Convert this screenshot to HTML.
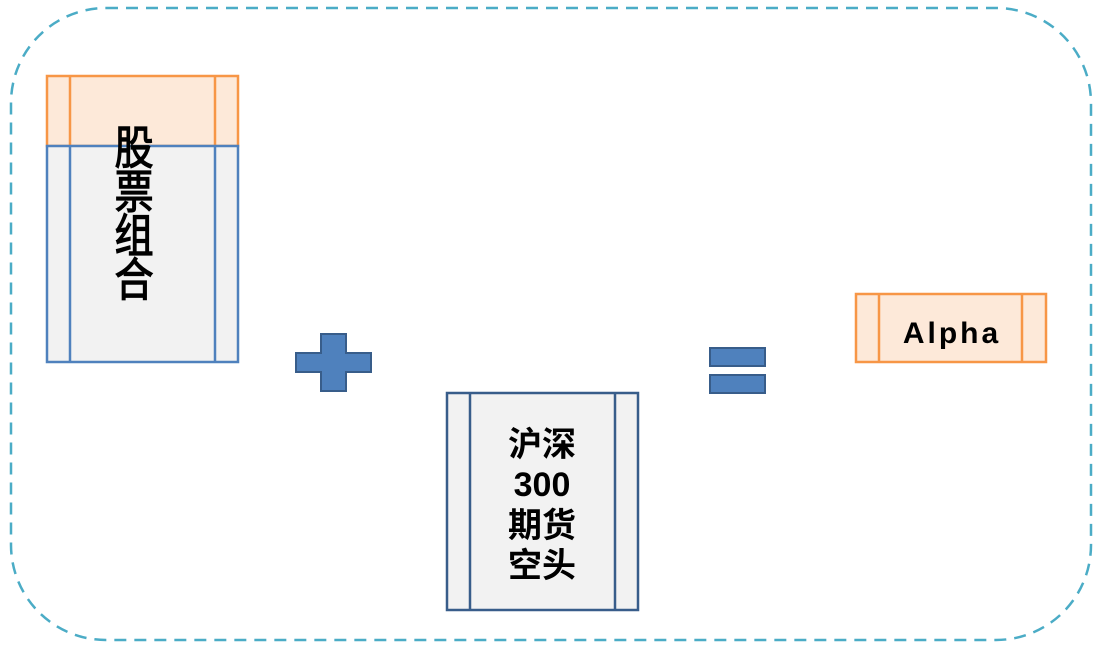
<!DOCTYPE html>
<html><head><meta charset="utf-8"><style>
body{margin:0;width:1107px;height:645px;background:#fff;overflow:hidden;}
</style></head><body>
<svg width="1107" height="645" xmlns="http://www.w3.org/2000/svg">
<rect x="11" y="8" width="1080" height="632" rx="95" ry="95" fill="none" stroke="#4bacc6" stroke-width="2.5" stroke-dasharray="12,8"/>
<rect x="47" y="76" width="191" height="70" fill="#fde9d9" stroke="#f79646" stroke-width="2.5"/>
<line x1="70" y1="76" x2="70" y2="146" stroke="#f79646" stroke-width="2.5"/>
<line x1="215" y1="76" x2="215" y2="146" stroke="#f79646" stroke-width="2.5"/>
<rect x="47" y="146" width="191" height="216" fill="#f2f2f2" stroke="#4f81bd" stroke-width="2.5"/>
<line x1="70" y1="146" x2="70" y2="362" stroke="#4f81bd" stroke-width="2.5"/>
<line x1="215" y1="146" x2="215" y2="362" stroke="#4f81bd" stroke-width="2.5"/>
<g font-family="'Liberation Sans','Noto Sans CJK SC',sans-serif" font-size="46" fill="#000" stroke="#000" stroke-width="1.2" text-anchor="middle">
<text transform="translate(134,164) scale(0.85,1)">股</text>
<text transform="translate(134,208) scale(0.85,1)">票</text>
<text transform="translate(134,252) scale(0.85,1)">组</text>
<text transform="translate(134,296) scale(0.85,1)">合</text>
</g>
<path d="M321,334 H346 V353 H371 V372 H346 V391 H321 V372 H296 V353 H321 Z" fill="#4f81bd" stroke="#385d8a" stroke-width="2"/>
<rect x="710" y="348" width="55" height="18" fill="#4f81bd" stroke="#385d8a" stroke-width="2"/>
<rect x="710" y="375" width="55" height="18" fill="#4f81bd" stroke="#385d8a" stroke-width="2"/>
<rect x="447" y="393" width="191" height="217" fill="#f2f2f2" stroke="#385d8a" stroke-width="2.5"/>
<line x1="470" y1="393" x2="470" y2="610" stroke="#385d8a" stroke-width="2.5"/>
<line x1="615" y1="393" x2="615" y2="610" stroke="#385d8a" stroke-width="2.5"/>
<g font-family="'Liberation Sans','Noto Sans CJK SC',sans-serif" font-size="34" font-weight="bold" fill="#000" text-anchor="middle">
<text x="542" y="456">沪深</text>
<text x="542" y="496">300</text>
<text x="542" y="537">期货</text>
<text x="542" y="577">空头</text>
</g>
<rect x="856" y="294" width="190" height="68" fill="#fde9d9" stroke="#f79646" stroke-width="2.5"/>
<line x1="879" y1="294" x2="879" y2="362" stroke="#f79646" stroke-width="2.5"/>
<line x1="1022" y1="294" x2="1022" y2="362" stroke="#f79646" stroke-width="2.5"/>
<text x="952" y="343" font-family="'Liberation Sans',sans-serif" font-size="30" font-weight="bold" letter-spacing="3" text-anchor="middle">Alpha</text>
</svg>
</body></html>
